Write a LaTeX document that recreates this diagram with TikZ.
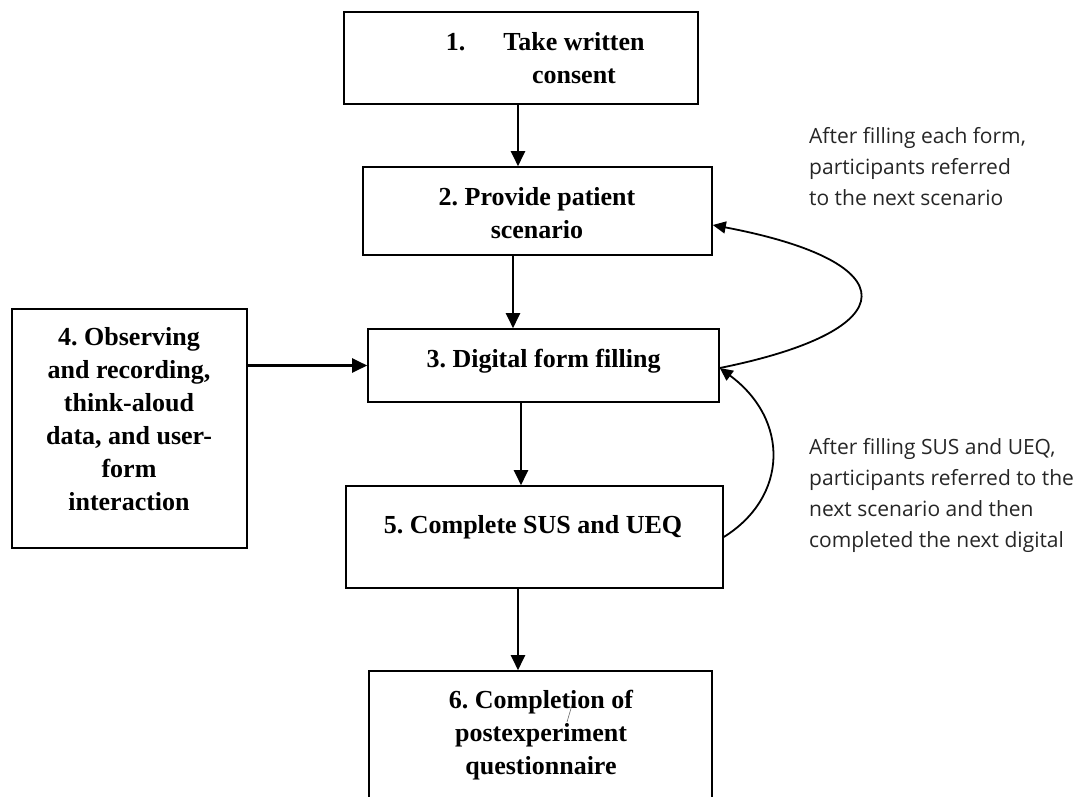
\documentclass[tikz,border=0pt]{standalone}
\usepackage{fontspec}
\setmainfont{Liberation Serif}
\newfontfamily\annfont{Open Sans}
\usetikzlibrary{arrows.meta}
\frenchspacing
\newcommand{\fstrut}{\rule{0pt}{20pt}}
\newcommand{\nstrut}{\rule{0pt}{16pt}}
\begin{document}
\begin{tikzpicture}[x=1pt,y=-1pt,
  box/.style={draw, line width=1.6pt, inner sep=0pt, rectangle},
  boxtext/.style={font=\fontsize{26}{33}\selectfont\bfseries, align=center, inner sep=0pt, anchor=north},
  boxline/.style={font=\fontsize{26}{33}\selectfont\bfseries, inner sep=0pt, anchor=base},
  flow/.style={line width=2.2pt, -{Triangle[length=15pt,width=14pt]}},
  loopback/.style={line width=1.8pt, -{Triangle[length=13pt,width=12pt]}},
  note/.style={font=\annfont\fontsize{21}{31}\selectfont, align=left, inner sep=0pt, anchor=north west, text=black!85}
]
\useasboundingbox (0,0) rectangle (1080,796);
\clip (0,0) rectangle (1080,796);

% boxes
\node[box, minimum width=354pt, minimum height=92pt] (b1) at (521,58) {};
\node[box, minimum width=349pt, minimum height=88pt] (b2) at (537.5,211) {};
\node[box, minimum width=351pt, minimum height=73pt] (b3) at (543.5,365.5) {};
\node[box, minimum width=235pt, minimum height=239pt] (b4) at (129.5,428.5) {};
\node[box, minimum width=377pt, minimum height=102pt] (b5) at (534.5,537) {};
\node[box, minimum width=343pt, minimum height=169pt] (b6) at (540.5,755.5) {};

% box texts
\node[boxline] (t1n) at (455.5,50) {1.};
\node[boxtext] (t1) at (574,30) {\fstrut Take written\\consent};
\node[boxtext] (t2) at (537,185) {\fstrut 2. Provide patient\\scenario};
\node[boxline] (t3) at (543.5,367) {3. Digital form filling};
\node[boxtext] (t4) at (129,325) {\fstrut 4. Observing\\and recording,\\think-aloud\\data, and user-\\form\\interaction};
\node[boxline] (t5) at (533,533) {5. Complete SUS and UEQ};
\node[boxtext] (t6) at (541,688) {\fstrut 6. Completion of\\postexperiment\\questionnaire};
\draw[line width=0.6pt, black!60] (572,705) -- (567,722);

% straight connectors
\draw[flow] ([xshift=-3pt]b1.south) -- ([xshift=-3pt]b1.south |- b2.north);
\draw[flow] ([xshift=-24.5pt]b2.south) -- ([xshift=-24.5pt]b2.south |- b3.north);
\draw[flow] ([xshift=-22.5pt]b3.south) -- ([xshift=-22.5pt]b3.south |- b5.north);
\draw[flow] ([xshift=-16.5pt]b5.south) -- ([xshift=-16.5pt]b5.south |- b6.north);
\draw[flow] (b4.east |- b3.west) -- (b3.west);

% loop connectors
\draw[loopback] ([yshift=-2.5pt]b3.east) .. controls (908,330) and (908,262) .. ([yshift=-14pt]b2.east);
\draw[loopback] (b5.east) .. controls (788,497) and (790,420) .. ([yshift=-2.5pt]b3.east);

% notes
\node[note] (n1) at (809,127) {\nstrut After filling each form,\\participants referred\\to the next scenario};
\node[note] (n2) at (809,438) {\nstrut After filling SUS and UEQ,\\participants referred to the\\next scenario and then\\completed the next digital};
\end{tikzpicture}
\end{document}
